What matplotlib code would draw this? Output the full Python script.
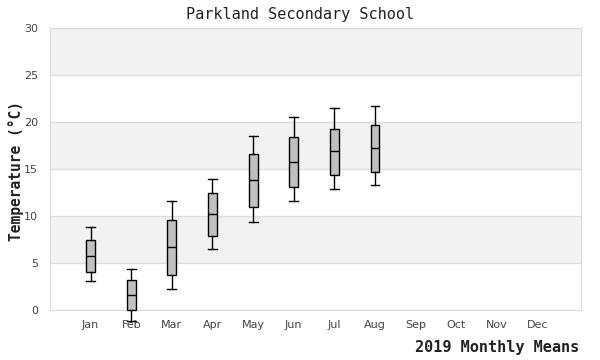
import matplotlib.pyplot as plt

# Data
months = ["Jan", "Feb", "Mar", "Apr", "May", "Jun", "Jul", "Aug", "Sep", "Oct", "Nov", "Dec"]
whisker_low = [3.1, -1.2, 2.25, 6.5, 9.4, 11.6, 12.9, 13.25]
q1 = [4.0, 0.0, 3.75, 7.9, 11.0, 13.1, 14.4, 14.65]
median = [5.7, 1.6, 6.75, 10.2, 13.8, 15.7, 16.9, 17.2]
q3 = [7.4, 3.2, 9.6, 12.5, 16.6, 18.4, 19.25, 19.7]
whisker_high = [8.8, 4.4, 11.6, 13.9, 18.5, 20.5, 21.5, 21.7]


def build_stats():
    stats = []
    for i in range(len(median)):
        stats.append({
            "label": months[i],
            "whislo": whisker_low[i],
            "q1": q1[i],
            "med": median[i],
            "q3": q3[i],
            "whishi": whisker_high[i],
            "fliers": [],
        })
    return stats


fig = plt.figure(figsize=(6, 3.6), dpi=100)
ax = fig.add_axes([0.0833, 0.1389, 0.885, 0.783])

# alternating bands
for lo in range(0, 30, 5):
    if (lo // 5) % 2 == 1:
        ax.axhspan(lo, lo + 5, color="#f2f2f2", zorder=0, lw=0)
    ax.axhline(lo, color="#dddddd", lw=1, zorder=1)
ax.axhline(30, color="#dddddd", lw=1, zorder=1)

box = ax.bxp(
    build_stats(),
    positions=range(len(median)),
    widths=0.22,
    patch_artist=True,
    showfliers=False,
    boxprops=dict(facecolor="#c0c0c0", edgecolor="black", lw=1),
    medianprops=dict(color="black", lw=1),
    whiskerprops=dict(color="black", lw=1),
    capprops=dict(color="black", lw=1),
    capwidths=0.22,
    zorder=3,
)
for group in box.values():
    for artist in group:
        artist.set_clip_on(False)

ax.set_xlim(-1.0, 12.07)
ax.set_ylim(0, 30)
ax.set_xticks(range(len(months)))
ax.set_xticklabels(months)
ax.set_yticks(range(0, 31, 5))
ax.tick_params(length=0, labelsize=8, labelcolor="#444444")
ax.tick_params(axis="x", pad=7)
ax.tick_params(axis="y", pad=8.5)
for side in ax.spines.values():
    side.set_color("#dddddd")

mono = "DejaVu Sans Mono"
fig.text(0.5, 0.96, "Parkland Secondary School", family=mono, fontsize=11, color="#222222",
         ha="center", va="center")
fig.text(0.027, 0.524, "Temperature (°C)", family=mono, fontsize=10.5, color="#222222",
         rotation=90, ha="center", va="center", fontweight="bold")
fig.text(0.965, 0.015, "2019 Monthly Means", family=mono, fontsize=11, color="#222222",
         ha="right", va="bottom", fontweight="bold")

fig.savefig("out.png", dpi=100)
